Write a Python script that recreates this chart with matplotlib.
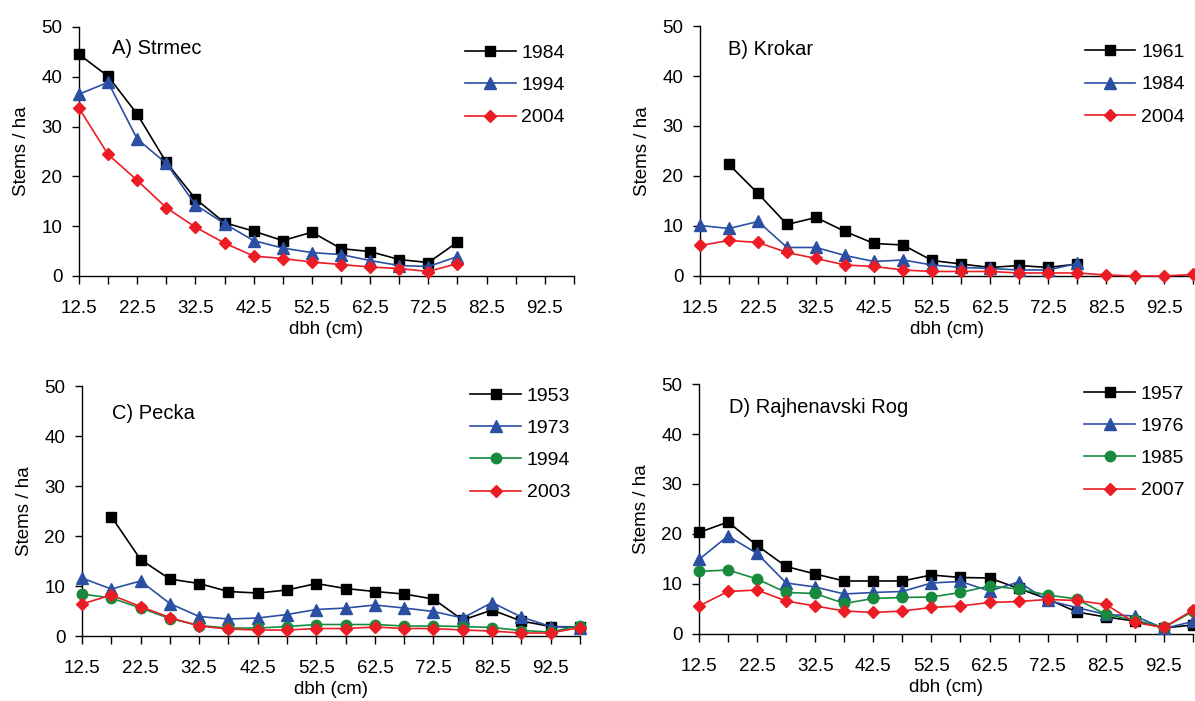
import matplotlib
matplotlib.use("Agg")
import matplotlib.pyplot as plt
import numpy as np

plt.rcParams['font.family'] = ['Liberation Sans', 'DejaVu Sans']

dbh = [12.5, 17.5, 22.5, 27.5, 32.5, 37.5, 42.5, 47.5, 52.5, 57.5,
       62.5, 67.5, 72.5, 77.5, 82.5, 87.5, 92.5, 97.5]
tick_labels = ['12.5', '', '22.5', '', '32.5', '', '42.5', '', '52.5', '',
               '62.5', '', '72.5', '', '82.5', '', '92.5', '']

# A) Strmec (12.5 - 77.5)
a_1984 = [44.5, 40.1, 32.5, 22.8, 15.5, 10.7, 9.0, 7.1, 8.8, 5.5, 4.9, 3.3, 2.7, 6.8]
a_1994 = [36.5, 38.9, 27.5, 22.6, 14.3, 10.5, 7.1, 5.6, 4.7, 4.3, 3.1, 2.1, 1.9, 3.9]
a_2004 = [33.7, 24.4, 19.2, 13.7, 9.8, 6.6, 4.0, 3.5, 2.8, 2.3, 1.8, 1.5, 0.9, 2.5]

# B) Krokar
b_1961 = [None, 22.3, 16.5, 10.3, 11.7, 8.9, 6.5, 6.2, 3.1, 2.4, 1.7, 2.1, 1.7, 2.4]
b_1984 = [10.1, 9.5, 10.9, 5.7, 5.7, 4.1, 2.9, 3.2, 2.2, 1.7, 1.5, 1.2, 1.2, 2.5]
b_2004 = [6.1, 7.1, 6.7, 4.7, 3.5, 2.2, 1.9, 1.2, 0.9, 0.9, 0.9, 0.6, 0.6, 0.6,
          0.2, 0.0, 0.0, 0.3]

# C) Pecka
c_1953 = [None, 23.9, 15.3, 11.4, 10.5, 8.9, 8.6, 9.2, 10.5, 9.5, 8.9, 8.4, 7.4,
          3.2, 5.2, 3.0, 1.9, 1.8]
c_1973 = [11.6, 9.4, 11.0, 6.5, 3.9, 3.4, 3.6, 4.3, 5.3, 5.6, 6.2, 5.6, 4.9,
          3.6, 6.7, 3.8, 1.9, 1.7]
c_1994 = [8.4, 7.6, 5.6, 3.5, 2.1, 1.6, 1.6, 1.9, 2.3, 2.3, 2.3, 2.0, 2.0,
          1.9, 1.7, 1.1, 0.8, 2.1]
c_2003 = [6.4, 8.2, 5.9, 3.7, 2.0, 1.4, 1.2, 1.2, 1.5, 1.5, 1.8, 1.5, 1.5,
          1.2, 1.0, 0.6, 0.6, 1.7]

# D) Rajhenavski Rog
d_1957 = [20.3, 22.4, 17.7, 13.5, 12.0, 10.6, 10.6, 10.6, 11.8, 11.3, 11.2, 9.1,
          7.0, 4.4, 3.4, 2.6, 1.2, 1.8]
d_1976 = [14.9, 19.6, 16.1, 10.2, 9.4, 8.0, 8.3, 8.5, 10.2, 10.5, 8.6, 10.4,
          6.7, 5.3, 3.9, 3.6, 1.1, 2.5]
d_1985 = [12.5, 12.8, 11.0, 8.3, 8.1, 6.1, 7.1, 7.3, 7.4, 8.3, 9.6, 9.0,
          7.8, 7.0, 3.9, 2.8, 1.3, 4.5]
d_2007 = [5.6, 8.5, 8.8, 6.6, 5.6, 4.6, 4.3, 4.6, 5.3, 5.6, 6.3, 6.5,
          6.9, 6.7, 5.9, 2.3, 1.3, 4.8]

BLACK = '#000000'
BLUE = '#2b4fa3'
GREEN = '#178a3e'
RED = '#ec1c24'
styles = {
    'black': dict(color=BLACK, marker='s', markersize=7.5),
    'blue': dict(color=BLUE, marker='^', markersize=8.5),
    'green': dict(color=GREEN, marker='o', markersize=7.5),
    'red': dict(color=RED, marker='D', markersize=6.5),
}

panels = [
    ('A) Strmec', [0.0661, 0.6063, 0.4142, 0.3552],
     [('1984', a_1984, 'black'), ('1994', a_1994, 'blue'), ('2004', a_2004, 'red')],
     (0.067, 0.915), 0.93),
    ('B) Krokar', [0.5858, 0.6063, 0.4126, 0.3566],
     [('1961', b_1961, 'black'), ('1984', b_1984, 'blue'), ('2004', b_2004, 'red')],
     (0.057, 0.905), 0.93),
    ('C) Pecka', [0.0686, 0.0927, 0.4167, 0.3566],
     [('1953', c_1953, 'black'), ('1973', c_1973, 'blue'), ('1994', c_1994, 'green'),
      ('2003', c_2003, 'red')],
     (0.06, 0.89), 0.995),
    ('D) Rajhenavski Rog', [0.5849, 0.0956, 0.4134, 0.3566],
     [('1957', d_1957, 'black'), ('1976', d_1976, 'blue'), ('1985', d_1985, 'green'),
      ('2007', d_2007, 'red')],
     (0.061, 0.908), 0.995),
]

fig = plt.figure(figsize=(11.95, 7.01), dpi=100)

for title, rect, series, tpos, leg_top in panels:
    ax = fig.add_axes(rect)
    for label, vals, sty in series:
        x = np.array(dbh[:len(vals)], dtype=float)
        y = np.array([np.nan if v is None else v for v in vals], dtype=float)
        s = styles[sty]
        ax.plot(x, y, color=s['color'], marker=s['marker'], markersize=s['markersize'],
                markerfacecolor=s['color'], markeredgecolor=s['color'],
                linewidth=1.2, label=label, clip_on=False, zorder=3)
    ax.set_xlim(dbh[0], dbh[-1])
    ax.set_ylim(0, 50)
    ax.set_xticks(dbh)
    ax.set_xticklabels(tick_labels)
    ax.set_yticks([0, 10, 20, 30, 40, 50])
    ax.spines['top'].set_visible(False)
    ax.spines['right'].set_visible(False)
    ax.spines['left'].set_linewidth(1.0)
    ax.spines['bottom'].set_linewidth(1.0)
    ax.tick_params(axis='x', direction='out', length=6, width=1, pad=11, labelsize=13.5)
    ax.tick_params(axis='y', direction='out', length=5, width=1, pad=7, labelsize=13.5)
    ax.set_xlabel('dbh (cm)', fontsize=13.5, labelpad=3)
    ax.set_ylabel('Stems / ha', fontsize=13.5, labelpad=8)
    ax.text(tpos[0], tpos[1], title, transform=ax.transAxes, fontsize=14.5,
            ha='left', va='center')
    ax.legend(loc='upper left', bbox_to_anchor=(0.78, leg_top), frameon=False,
              fontsize=14, handlelength=2.6, handletextpad=0.3, labelspacing=0.75,
              borderpad=0, borderaxespad=0)

fig.savefig('out.png', dpi=100)
